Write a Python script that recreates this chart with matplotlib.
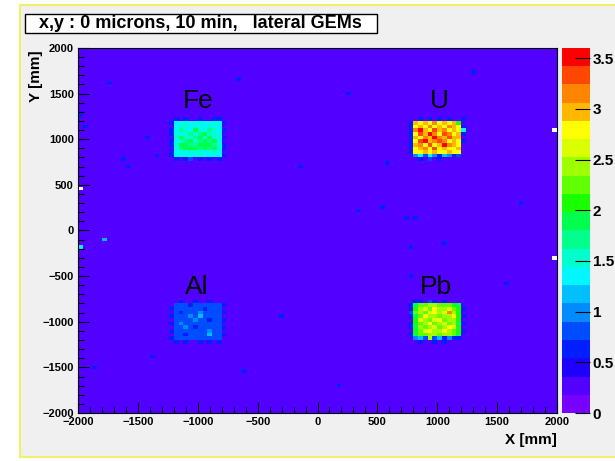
import numpy as np
import matplotlib.pyplot as plt
from matplotlib.colors import ListedColormap, BoundaryNorm
from matplotlib.patches import Rectangle
from matplotlib.ticker import MultipleLocator

# histogram binning (40 mm bins over the 4 m x 4 m plane)
x_edges = np.linspace(-2000, 2000, 101)
y_edges = np.linspace(-2000, 2000, 101)
z_max = 3.6
n_levels = 20

background_level = 0.25

# 12x12 cells around each block (rows listed top -> bottom)
fe_cells = [
    [0.25, 0.6, 0.25, 0.6, 0.25, 0.25, 0.6, 0.25, 0.25, 0.6, 0.6, 0.25],
    [0.6, 1.40, 1.35, 1.50, 1.40, 1.35, 1.45, 1.40, 1.35, 1.45, 1.40, 0.6],
    [0.25, 1.35, 1.45, 1.60, 1.40, 1.50, 1.40, 1.35, 1.50, 1.40, 1.35, 0.25],
    [0.6, 1.40, 1.65, 1.50, 1.40, 1.80, 1.55, 1.40, 1.65, 1.45, 1.40, 0.6],
    [0.6, 1.45, 1.40, 1.60, 1.75, 1.50, 1.70, 1.85, 1.50, 1.60, 1.35, 0.25],
    [0.25, 1.50, 1.85, 1.55, 1.50, 1.70, 1.90, 1.55, 1.85, 1.55, 1.45, 0.6],
    [0.6, 1.35, 1.55, 1.70, 1.85, 1.60, 1.70, 1.95, 1.65, 1.80, 1.40, 0.25],
    [0.6, 1.55, 1.90, 1.80, 1.65, 1.75, 1.90, 1.80, 1.90, 1.65, 1.50, 0.6],
    [0.25, 1.40, 1.65, 1.90, 1.80, 1.95, 1.70, 1.85, 1.75, 1.90, 1.45, 0.6],
    [0.6, 1.40, 1.50, 1.40, 1.55, 1.45, 1.50, 1.40, 1.55, 1.45, 1.40, 0.25],
    [0.6, 1.35, 1.40, 1.45, 1.35, 1.40, 1.45, 1.35, 1.40, 1.35, 1.40, 0.6],
    [0.25, 0.6, 0.25, 0.6, 0.8, 0.25, 0.6, 0.25, 0.6, 0.25, 0.6, 0.25],
]
u_cells = [
    [0.25, 0.25, 0.6, 0.25, 0.6, 0.25, 0.6, 0.25, 0.6, 0.25, 0.25, 0.6],
    [0.6, 2.95, 2.75, 3.00, 2.80, 3.10, 2.75, 2.95, 2.80, 2.95, 2.10, 0.25],
    [0.6, 2.80, 3.05, 2.75, 3.20, 2.85, 3.00, 2.70, 3.10, 2.90, 2.75, 0.6],
    [0.6, 3.10, 3.45, 3.00, 2.75, 3.30, 3.05, 3.20, 2.85, 3.00, 2.80, 1.40],
    [0.6, 2.75, 3.30, 2.90, 3.50, 3.10, 2.80, 3.25, 3.15, 2.75, 2.90, 0.6],
    [0.6, 3.00, 2.85, 3.20, 3.05, 3.45, 3.20, 2.95, 3.30, 2.90, 3.05, 0.25],
    [0.6, 2.80, 3.25, 3.50, 2.90, 3.15, 3.30, 3.10, 2.85, 3.05, 2.80, 0.6],
    [0.6, 2.95, 3.20, 2.85, 3.25, 2.80, 3.00, 3.50, 3.20, 2.95, 2.85, 0.25],
    [0.6, 2.75, 2.90, 3.15, 2.80, 3.30, 2.85, 3.05, 2.80, 2.75, 2.90, 0.25],
    [0.6, 2.85, 2.75, 3.00, 2.70, 2.95, 2.75, 2.80, 2.90, 2.70, 2.75, 0.25],
    [0.25, 0.9, 1.3, 0.8, 1.4, 0.9, 0.6, 1.2, 0.9, 0.6, 0.8, 0.25],
    [0.25, 0.25, 0.6, 0.25, 0.8, 0.25, 0.6, 0.25, 0.25, 0.25, 0.25, 0.25],
]
al_cells = [
    [0.25, 0.25, 0.6, 0.25, 0.25, 0.6, 0.25, 0.25, 0.6, 0.25, 0.25, 0.25],
    [0.25, 0.80, 0.78, 0.82, 0.66, 0.80, 0.78, 0.82, 0.80, 0.78, 0.80, 0.6],
    [0.6, 0.78, 0.85, 0.80, 0.78, 0.82, 0.80, 0.66, 0.85, 0.82, 0.78, 0.25],
    [0.25, 0.80, 0.66, 0.82, 0.80, 0.78, 1.05, 0.80, 0.78, 0.80, 0.82, 0.6],
    [0.6, 0.82, 0.80, 0.78, 1.00, 0.80, 1.10, 0.82, 0.80, 0.85, 0.80, 0.25],
    [0.25, 0.78, 0.82, 0.80, 0.78, 1.00, 0.82, 0.80, 0.66, 0.78, 0.80, 0.6],
    [0.6, 0.80, 0.95, 0.78, 0.82, 0.80, 0.78, 0.85, 0.80, 0.82, 0.78, 0.25],
    [0.25, 0.82, 0.78, 1.00, 0.80, 0.66, 0.82, 0.80, 0.78, 0.80, 0.85, 0.6],
    [0.6, 0.78, 0.80, 0.82, 0.78, 0.85, 0.80, 0.78, 1.05, 0.82, 0.78, 0.25],
    [0.25, 0.80, 0.82, 0.66, 0.80, 0.78, 0.82, 0.80, 1.10, 0.78, 0.80, 0.6],
    [0.6, 0.78, 0.80, 0.82, 0.78, 0.80, 0.78, 0.82, 0.80, 0.78, 0.80, 0.25],
    [0.25, 0.6, 0.25, 0.6, 0.25, 0.25, 0.6, 0.25, 0.6, 0.25, 0.6, 0.25],
]
pb_cells = [
    [0.25, 0.6, 0.6, 0.25, 0.8, 0.6, 0.25, 0.6, 0.25, 0.25, 0.25, 0.25],
    [0.6, 1.9, 2.3, 2.2, 2.5, 2.4, 2.3, 2.2, 2.3, 2.1, 1.9, 0.25],
    [0.6, 2.0, 2.4, 2.6, 2.3, 2.7, 2.5, 2.4, 2.6, 2.3, 2.0, 0.6],
    [0.8, 2.2, 2.5, 2.3, 2.6, 2.8, 2.4, 2.6, 3.1, 2.5, 2.1, 0.25],
    [0.6, 1.9, 2.3, 2.7, 2.4, 2.5, 2.3, 2.5, 2.4, 2.7, 2.0, 0.6],
    [0.25, 2.1, 2.6, 2.4, 2.2, 2.6, 2.7, 2.3, 2.5, 2.4, 2.1, 0.25],
    [0.6, 2.0, 2.2, 2.5, 2.7, 2.3, 2.4, 2.6, 2.3, 2.5, 1.9, 0.6],
    [0.6, 1.9, 2.5, 2.3, 2.4, 2.6, 2.3, 2.4, 2.7, 2.6, 2.0, 0.25],
    [0.25, 2.0, 2.3, 2.6, 2.8, 2.5, 2.4, 2.8, 2.5, 2.3, 2.1, 0.6],
    [0.6, 1.8, 2.2, 2.3, 2.5, 2.4, 2.2, 2.5, 2.4, 2.2, 1.9, 0.25],
    [0.25, 0.9, 1.2, 0.8, 2.4, 0.8, 1.1, 0.7, 0.9, 0.6, 0.6, 0.25],
    [0.25, 0.25, 0.6, 0.25, 0.25, 0.6, 0.25, 0.6, 0.25, 0.25, 0.25, 0.25],
]

block_names = ["Fe", "U", "Al", "Pb"]
block_cells = [fe_cells, u_cells, al_cells, pb_cells]
# lower-left corner (mm) of each 12x12 patch
block_corners = [(-1240, 760), (760, 760), (-1240, -1240), (760, -1240)]
label_pos = [(-1000, 1345), (1020, 1345), (-1010, -695), (990, -695)]

# isolated hits in the background: x, y (mm), content
stray_x = [-1724, -1415, -1332, -1608, -1566, -680, -1975, -1940, 588, 338, 538,
           747, 839, 1040, 789, -146, 789, -1791, -1983, -1400, -620, 1300, 1700,
           -300, 180, 1560, -1850, 260]
stray_y = [1616, 1013, 827, 761, 718, 1671, 1266, 1120, 750, 203, 257,
           159, 159, -137, -181, 718, -488, -82, -170, -1380, -1560, 1750, 300,
           -950, -1700, -600, -1500, 1480]
stray_v = [0.6, 0.6, 0.6, 0.6, 0.6, 0.6, 0.6, 0.6, 0.6, 0.6, 0.6,
           0.6, 0.6, 0.6, 0.6, 0.6, 0.6, 1.1, 1.4, 0.6, 0.6, 0.6, 0.6,
           0.6, 0.6, 0.6, 0.6, 0.6]
# empty bins (drawn white)
empty_x = [-1983, 1983, 1983]
empty_y = [466, 1090, -290]

# ROOT-like 20 level palette
palette = [
    (0.47, 0.00, 1.00), (0.32, 0.00, 1.00), (0.12, 0.00, 1.00), (0.00, 0.12, 1.00),
    (0.00, 0.30, 1.00), (0.00, 0.55, 1.00), (0.00, 0.75, 1.00), (0.00, 0.97, 1.00),
    (0.00, 1.00, 0.80), (0.00, 1.00, 0.55), (0.00, 1.00, 0.30), (0.10, 1.00, 0.00),
    (0.38, 1.00, 0.00), (0.62, 1.00, 0.00), (0.85, 1.00, 0.00), (1.00, 1.00, 0.00),
    (1.00, 0.72, 0.00), (1.00, 0.52, 0.00), (1.00, 0.28, 0.00), (1.00, 0.00, 0.00),
]


def bin_index(v):
    return int((v + 2000) // 40)


z = np.full((100, 100), background_level)
for cells, (cx, cy) in zip(block_cells, block_corners):
    arr = np.flipud(np.array(cells))
    i0, j0 = bin_index(cx), bin_index(cy)
    z[j0:j0 + arr.shape[0], i0:i0 + arr.shape[1]] = arr
for x, y, v in zip(stray_x, stray_y, stray_v):
    z[bin_index(y), bin_index(x)] = v
for x, y in zip(empty_x, empty_y):
    z[bin_index(y), bin_index(x)] = np.nan

cmap = ListedColormap(palette)
cmap.set_bad('white')
norm = BoundaryNorm(np.linspace(0, z_max, n_levels + 1), n_levels)

plt.rcParams['font.family'] = ['Liberation Sans', 'DejaVu Sans']

W, H = 615, 461
fig = plt.figure(figsize=(W / 100, H / 100), dpi=100, facecolor='white')

# ROOT canvas background with yellow frame
fig.patches.append(Rectangle((20 / W, 4 / H), 1.0, 1 - 9 / H, transform=fig.transFigure,
                             facecolor='#f0f0f0', edgecolor='#f2ef6a', lw=1.5, zorder=-5))

ax = fig.add_axes([78 / W, 1 - 413 / H, 479 / W, 365 / H])
mesh = ax.pcolormesh(x_edges, y_edges, z, cmap=cmap, norm=norm, antialiased=False)
ax.set_xlim(-2000, 2000)
ax.set_ylim(-2000, 2000)
ax.xaxis.set_major_locator(MultipleLocator(500))
ax.xaxis.set_minor_locator(MultipleLocator(100))
ax.yaxis.set_major_locator(MultipleLocator(500))
ax.yaxis.set_minor_locator(MultipleLocator(100))
ax.tick_params(which='both', direction='in', width=0.8, color='black')
ax.tick_params(which='major', length=8, labelsize=8, pad=3)
ax.tick_params(which='minor', length=4)
for lab in ax.get_xticklabels() + ax.get_yticklabels():
    lab.set_fontweight('bold')
for sp in ax.spines.values():
    sp.set_linewidth(0.8)

for name, (lx, ly) in zip(block_names, label_pos):
    ax.text(lx, ly, name, ha='center', va='baseline', fontsize=19, color='black')

ax.set_xlabel('X [mm]', fontsize=11, fontweight='bold', loc='right', labelpad=4)
fig.text(36 / W, 1 - 50 / H, 'Y [mm]', rotation=90, ha='center', va='top',
         fontsize=11, fontweight='bold')

cax = fig.add_axes([562 / W, 1 - 413 / H, 28 / W, 365 / H])
cb = fig.colorbar(mesh, cax=cax, ticks=np.arange(0, 3.51, 0.5), drawedges=False)
cb.outline.set_visible(False)
cb.ax.set_yticklabels(['%g' % t for t in np.arange(0, 3.51, 0.5)])
cb.ax.tick_params(direction='in', length=11, width=0.8, labelsize=11, pad=2)
for lab in cb.ax.get_yticklabels():
    lab.set_fontweight('bold')
cb.ax.minorticks_off()

# title box
fig.patches.append(Rectangle((25 / W, 1 - 33 / H), 352 / W, 19 / H, transform=fig.transFigure,
                             facecolor='white', edgecolor='black', lw=1.0, zorder=5))
fig.text(200 / W, 1 - 24 / H, 'x,y : 0 microns, 10 min,   lateral GEMs',
         ha='center', va='center', fontsize=13, fontweight='bold', zorder=6)

fig.savefig('out.png', dpi=100, facecolor=fig.get_facecolor())
